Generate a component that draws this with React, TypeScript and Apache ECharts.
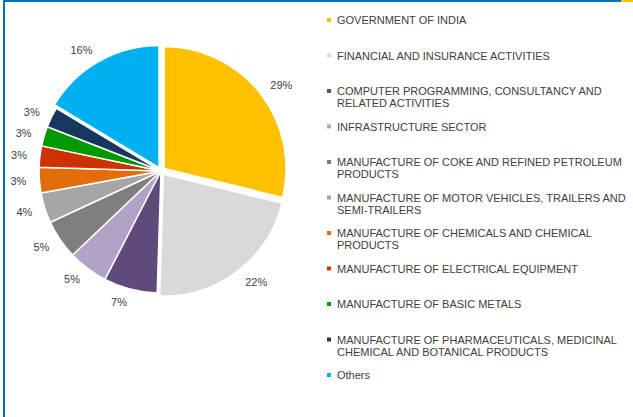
import React, { useEffect, useRef } from "react";
import * as echarts from "echarts";

const categories = [
  "GOVERNMENT OF INDIA",
  "FINANCIAL AND INSURANCE ACTIVITIES",
  "COMPUTER PROGRAMMING, CONSULTANCY AND RELATED ACTIVITIES",
  "INFRASTRUCTURE SECTOR",
  "MANUFACTURE OF COKE AND REFINED PETROLEUM PRODUCTS",
  "MANUFACTURE OF MOTOR VEHICLES, TRAILERS AND SEMI-TRAILERS",
  "MANUFACTURE OF CHEMICALS AND CHEMICAL PRODUCTS",
  "MANUFACTURE OF ELECTRICAL EQUIPMENT",
  "MANUFACTURE OF BASIC METALS",
  "MANUFACTURE OF PHARMACEUTICALS, MEDICINAL CHEMICAL AND BOTANICAL PRODUCTS",
  "Others",
];

const legendLabels = [
  "GOVERNMENT OF INDIA",
  "FINANCIAL AND INSURANCE ACTIVITIES",
  "COMPUTER PROGRAMMING, CONSULTANCY AND\nRELATED ACTIVITIES",
  "INFRASTRUCTURE SECTOR",
  "MANUFACTURE OF COKE AND REFINED PETROLEUM\nPRODUCTS",
  "MANUFACTURE OF MOTOR VEHICLES, TRAILERS AND\nSEMI-TRAILERS",
  "MANUFACTURE OF CHEMICALS AND CHEMICAL\nPRODUCTS",
  "MANUFACTURE OF ELECTRICAL EQUIPMENT",
  "MANUFACTURE OF BASIC METALS",
  "MANUFACTURE OF PHARMACEUTICALS, MEDICINAL\nCHEMICAL AND BOTANICAL PRODUCTS",
  "Others",
];

const shares = [28.8, 21.7, 7.1, 5.3, 5.2, 4.0, 3.4, 2.8, 2.6, 2.7, 16.4];

const colors = [
  "#FFC000",
  "#D9D9D9",
  "#604A7B",
  "#B3A2C7",
  "#7F7F7F",
  "#A6A6A6",
  "#E46C0A",
  "#CC3300",
  "#009900",
  "#17375E",
  "#00B0F0",
];

const exploded = [true, true, false, false, false, false, false, false, false, false, true];

const FONT = "'Liberation Sans', Arial, sans-serif";
const TEXT = "#404040";

export default function App() {
  const ref = useRef<HTMLDivElement>(null);

  useEffect(() => {
    if (!ref.current) return;
    const chart = echarts.init(ref.current, null, { renderer: "svg" });

    const data = categories.map((name, i) => ({
      name,
      value: shares[i],
      selected: exploded[i],
      itemStyle: { color: colors[i] },
    }));

    const isTwoLine = (i: number) => legendLabels[i].includes("\n");

    const legendData = categories.map((name, i) => ({
      name,
      textStyle: {
        padding: isTwoLine(i) ? 0 : [12, 0, 12, 0],
      },
    }));

    chart.setOption({
      animation: false,
      backgroundColor: "#ffffff",
      graphic: [
        { type: "rect", shape: { x: 3, y: 0, width: 618, height: 2 }, style: { fill: "#0072BC" } },
        { type: "rect", shape: { x: 621, y: 0, width: 12, height: 2 }, style: { fill: "#FFC000" } },
        { type: "rect", shape: { x: 3, y: 0, width: 2, height: 417 }, style: { fill: "#0072BC" } },
      ],
      legend: {
        orient: "vertical",
        left: 325,
        top: 2,
        padding: 0,
        itemGap: -0.5,
        itemWidth: 6,
        itemHeight: 6,
        icon: "rect",
        selectedMode: false,
        data: legendData,
        formatter: (name: string) => {
          const i = categories.indexOf(name);
          return isTwoLine(i) ? "\n" + legendLabels[i] : legendLabels[i];
        },
        textStyle: {
          color: TEXT,
          fontSize: 11,
          fontFamily: FONT,
          lineHeight: 12,
        },
      },
      series: [
        {
          type: "pie",
          center: [161, 171],
          radius: 122,
          startAngle: 90,
          clockwise: true,
          selectedMode: "multiple",
          selectedOffset: 4,
          avoidLabelOverlap: false,
          itemStyle: { borderColor: "#ffffff", borderWidth: 1.5 },
          select: { itemStyle: { borderColor: "#ffffff", borderWidth: 1.5 } },
          emphasis: { disabled: true },
          label: {
            show: true,
            position: "outside",
            distanceToLabelLine: 0,
            color: TEXT,
            fontSize: 11,
            fontFamily: FONT,
            formatter: (p: any) => Math.round(p.percent) + "%",
          },
          labelLine: { show: false, length: 13, length2: 0 },
          data,
        },
      ],
    });

    return () => chart.dispose();
  }, []);

  return (
    <div
      ref={ref}
      style={{ position: "absolute", left: 0, top: 0, width: 633, height: 417 }}
    />
  );
}
